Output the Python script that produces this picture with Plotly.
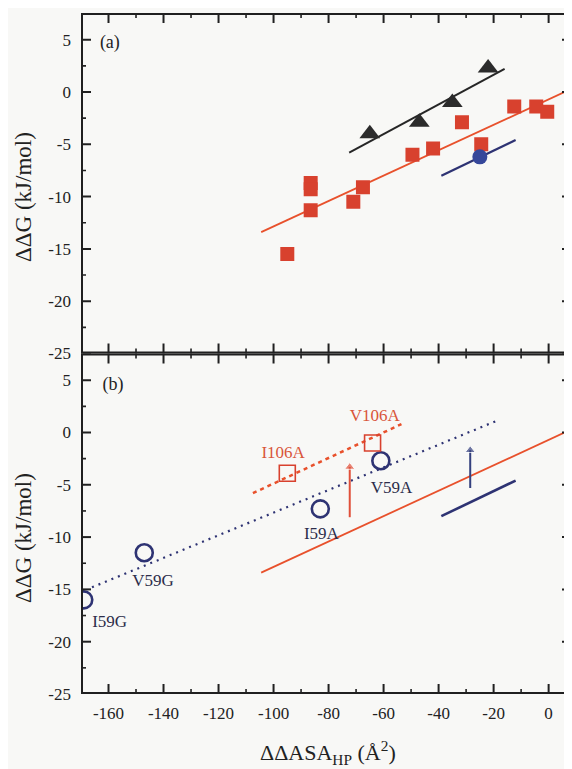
import plotly.graph_objects as go

# ---------------- data ----------------
# Panel (a)
sq_x = [-95, -86.5, -86.5, -86.5, -71, -67.5, -49.5, -42, -31.5, -24.5, -12.5, -4.5, -0.5]
sq_y = [-15.5, -8.7, -9.3, -11.3, -10.5, -9.1, -6.0, -5.4, -2.9, -5.0, -1.4, -1.4, -1.9]
tri_x = [-65, -47, -35, -22]
tri_y = [-4.0, -2.9, -1.0, 2.3]
circ_a_x = [-25]
circ_a_y = [-6.2]
red_fit_x = [-104.5, 10]
red_fit_y = [-13.4, 0.5]
black_fit_x = [-72.5, -16]
black_fit_y = [-5.8, 2.2]
blue_fit_x = [-39, -12]
blue_fit_y = [-8.0, -4.6]

# Panel (b)
open_circ_x = [-169, -147, -83, -61]
open_circ_y = [-16.0, -11.5, -7.3, -2.7]
open_circ_lbl = ["I59G", "V59G", "I59A", "V59A"]
open_circ_lbl_x = [-159.6, -143.8, -82.6, -57.1]
open_circ_lbl_y = [-18.2, -14.3, -9.8, -5.4]
open_sq_x = [-95, -64]
open_sq_y = [-3.9, -1.0]
open_sq_lbl = ["I106A", "V106A"]
open_sq_lbl_x = [-96.5, -63.2]
open_sq_lbl_y = [-2.0, 1.5]
red_dot_fit_x = [-107.5, -53.5]
red_dot_fit_y = [-5.8, 0.8]
blue_dot_fit_x = [-166, -19]
blue_dot_fit_y = [-14.8, 1.1]
red_arrow_x = [-72.3, -72.3]
red_arrow_y = [-8.1, -3.3]
blue_arrow_x = [-28.5, -28.5]
blue_arrow_y = [-5.3, -1.7]

x_range = [-170, 8.5]
y_range = [-25, 7.55]
x_ticks = [-160, -140, -120, -100, -80, -60, -40, -20, 0]
x_ticktext = ["-160", "-140", "-120", "-100", "-80", "-60", "-40", "-20", "0"]
x_minor_ticks = [-150, -130, -110, -90, -70, -50, -30, -10]
y_ticks = [5, 0, -5, -10, -15, -20, -25]
y_ticktext = ["5", "0", "-5", "-10", "-15", "-20", "-25"]
y_minor_ticks = [2.5, -2.5, -7.5, -12.5, -17.5, -22.5]
panel_labels = ["(a)", "(b)"]
panel_label_x = [-159.5, -158.4]
panel_label_y = [4.6, 4.5]

# ---------------- style ----------------
FONT = "Liberation Serif"
BG = "#f8f8f6"
RED = "#d8412e"
RED_LINE = "#e8512c"
NAVY = "#2e3373"
BLUE_FILL = "#36479a"
DARK = "#262626"
AX = "#202020"

OFF = 8  # default page body margin
W, H = 572 - OFF, 769 - OFF
ML, MR, MT, MB = 81 - OFF, 0, 13 - OFF, 75
PW = W - ML - MR
PH = H - MT - MB
PANEL_H = PH / 2.0
X_PER_PX = (x_range[1] - x_range[0]) / PW
Y_PER_PX = (y_range[1] - y_range[0]) / PANEL_H


def px2paper_x(px):
    return (px - OFF - ML) / PW


def px2paper_y(py):
    return (H - MB - (py - OFF)) / PH


fig = go.Figure()

# panel a
fig.add_trace(go.Scatter(x=red_fit_x, y=red_fit_y, mode="lines",
                         line=dict(color=RED_LINE, width=1.8), xaxis="x", yaxis="y"))
fig.add_trace(go.Scatter(x=sq_x, y=sq_y, mode="markers",
                         marker=dict(symbol="square", size=14, color=RED),
                         xaxis="x", yaxis="y"))
fig.add_trace(go.Scatter(x=black_fit_x, y=black_fit_y, mode="lines",
                         line=dict(color=DARK, width=2), xaxis="x", yaxis="y"))
fig.add_trace(go.Scatter(x=tri_x, y=tri_y, mode="markers",
                         marker=dict(symbol="triangle-up", size=18, color="#2b2b2b"),
                         xaxis="x", yaxis="y"))
fig.add_trace(go.Scatter(x=blue_fit_x, y=blue_fit_y, mode="lines",
                         line=dict(color=NAVY, width=2.2), xaxis="x", yaxis="y"))
fig.add_trace(go.Scatter(x=circ_a_x, y=circ_a_y, mode="markers",
                         marker=dict(symbol="circle", size=15, color=BLUE_FILL),
                         xaxis="x", yaxis="y"))
fig.add_trace(go.Scatter(x=panel_label_x[:1], y=panel_label_y[:1], mode="text", text=panel_labels[:1],
                         textfont=dict(family=FONT, size=18, color="#222"),
                         xaxis="x", yaxis="y"))

# panel b
fig.add_trace(go.Scatter(x=red_fit_x, y=red_fit_y, mode="lines",
                         line=dict(color=RED_LINE, width=1.8), xaxis="x2", yaxis="y2"))
fig.add_trace(go.Scatter(x=blue_fit_x, y=blue_fit_y, mode="lines",
                         line=dict(color=NAVY, width=2.6), xaxis="x2", yaxis="y2"))
fig.add_trace(go.Scatter(x=blue_dot_fit_x, y=blue_dot_fit_y, mode="lines",
                         line=dict(color=NAVY, width=2.2, dash="2px,5px"), xaxis="x2", yaxis="y2"))
fig.add_trace(go.Scatter(x=red_dot_fit_x, y=red_dot_fit_y, mode="lines",
                         line=dict(color=RED_LINE, width=2.5, dash="4px,4px"), xaxis="x2", yaxis="y2"))
fig.add_trace(go.Scatter(x=open_circ_x, y=open_circ_y, mode="markers",
                         marker=dict(symbol="circle-open", size=17, color=NAVY, line=dict(width=2.6)),
                         xaxis="x2", yaxis="y2"))
fig.add_trace(go.Scatter(x=open_sq_x, y=open_sq_y, mode="markers",
                         marker=dict(symbol="square-open", size=16, color=RED, line=dict(width=1.6)),
                         xaxis="x2", yaxis="y2"))
fig.add_trace(go.Scatter(x=open_circ_lbl_x, y=open_circ_lbl_y, mode="text", text=open_circ_lbl,
                         textfont=dict(family=FONT, size=17, color="#2c2d4a"),
                         xaxis="x2", yaxis="y2"))
fig.add_trace(go.Scatter(x=open_sq_lbl_x, y=open_sq_lbl_y, mode="text", text=open_sq_lbl,
                         textfont=dict(family=FONT, size=17, color="#d9553a"),
                         xaxis="x2", yaxis="y2"))
fig.add_trace(go.Scatter(x=panel_label_x[1:], y=panel_label_y[1:], mode="text", text=panel_labels[1:],
                         textfont=dict(family=FONT, size=18, color="#222"),
                         xaxis="x2", yaxis="y2"))
# arrows (shaft + head marker at the tip)
for ax_, ay_, col in [(red_arrow_x, red_arrow_y, "#e0503a"), (blue_arrow_x, blue_arrow_y, "#34407e")]:
    fig.add_trace(go.Scatter(x=ax_, y=ay_, mode="lines",
                             line=dict(color=col, width=2), xaxis="x2", yaxis="y2"))
    fig.add_trace(go.Scatter(x=ax_[1:], y=ay_[1:], mode="markers",
                             marker=dict(symbol="triangle-up", size=[9], color=col),
                             xaxis="x2", yaxis="y2"))


# frame and inward ticks, built from the axis range and tick lists
def tick_path(xvals, yvals, xlen_px, ylen_px):
    xs, ys = [], []
    x0, x1 = x_range
    y0, y1 = y_range
    dy = ylen_px * Y_PER_PX
    dx = xlen_px * X_PER_PX
    for v in xvals:
        xs += [v, v, None, v, v, None]
        ys += [y0, y0 + dy, None, y1, y1 - dy, None]
    for v in yvals:
        xs += [x0, x0 + dx, None, x1, x1 - dx, None]
        ys += [v, v, None, v, v, None]
    return xs, ys


for xa, ya in [("x", "y"), ("x2", "y2")]:
    mx, my = tick_path(x_ticks, y_ticks, 10, 10)
    fig.add_trace(go.Scatter(x=mx, y=my, mode="lines", line=dict(color=AX, width=2),
                             connectgaps=False, xaxis=xa, yaxis=ya))
    nx, ny = tick_path(x_minor_ticks, y_minor_ticks, 5, 5)
    fig.add_trace(go.Scatter(x=nx, y=ny, mode="lines", line=dict(color=AX, width=1.6),
                             connectgaps=False, xaxis=xa, yaxis=ya))
    fig.add_trace(go.Scatter(x=[x_range[0], x_range[1], x_range[1], x_range[0], x_range[0]],
                             y=[y_range[0], y_range[0], y_range[1], y_range[1], y_range[0]],
                             mode="lines", line=dict(color=AX, width=4),
                             xaxis=xa, yaxis=ya))

TICKFONT = dict(family=FONT, size=17, color="#222")


def xaxis_spec(anchor, show_labels):
    return dict(domain=[0, 1], anchor=anchor, range=x_range,
                showline=False, ticks="", showgrid=False, zeroline=False,
                tickvals=x_ticks, ticktext=x_ticktext, showticklabels=show_labels,
                tickfont=TICKFONT, ticklabelstandoff=7)


def yaxis_spec(anchor, domain):
    return dict(domain=domain, anchor=anchor, range=y_range,
                showline=False, ticks="", showgrid=False, zeroline=False,
                tickvals=y_ticks, ticktext=y_ticktext,
                tickfont=TICKFONT, ticklabelstandoff=9)


fig.update_layout(
    width=W, height=H,
    margin=dict(l=ML, r=MR, t=MT, b=MB, autoexpand=False),
    paper_bgcolor=BG, plot_bgcolor=BG,
    showlegend=False,
    xaxis=xaxis_spec("y", False),
    yaxis=yaxis_spec("x", [0.5, 1]),
    xaxis2=xaxis_spec("y2", True),
    yaxis2=yaxis_spec("x2", [0, 0.5]),
)

annotations = [
    dict(x=px2paper_x(23), y=px2paper_y(197), xref="paper", yref="paper",
         text="ΔΔG (kJ/mol)", textangle=-90, showarrow=False,
         xanchor="center", yanchor="middle",
         font=dict(family=FONT, size=23, color="#222")),
    dict(x=px2paper_x(23), y=px2paper_y(538), xref="paper", yref="paper",
         text="ΔΔG (kJ/mol)", textangle=-90, showarrow=False,
         xanchor="center", yanchor="middle",
         font=dict(family=FONT, size=23, color="#222")),
    dict(x=px2paper_x(328), y=px2paper_y(752), xref="paper", yref="paper",
         text="ΔΔASA<sub>HP</sub> (Å<sup>2</sup>)", showarrow=False,
         xanchor="center", yanchor="middle",
         font=dict(family=FONT, size=22, color="#222")),
]
fig.update_layout(annotations=annotations)

fig.write_html("out.html")
